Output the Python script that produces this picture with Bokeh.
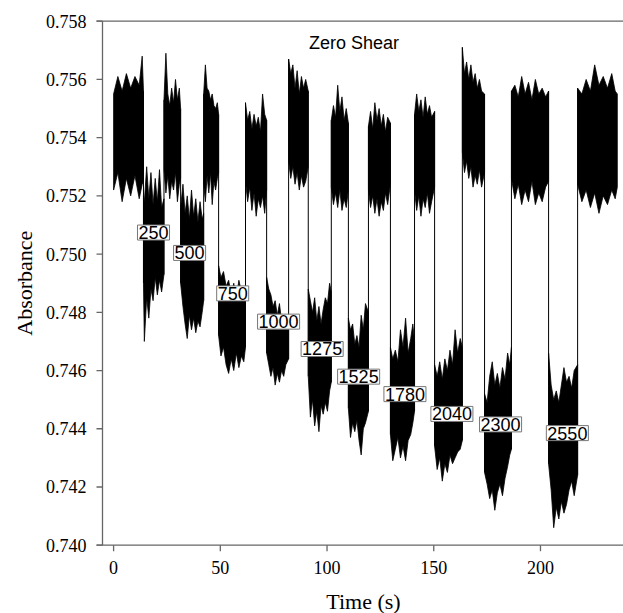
import math
from bokeh.plotting import figure
from bokeh.models import Range1d, Label
from bokeh.embed import file_html
from bokeh.resources import INLINE

# ---- data (time in s, absorbance envelopes per plateau) ----
seg_t = [
    [0, 2, 4, 6, 8, 10, 12, 13.4, 14],
    [14, 14.4, 15.5, 16.5, 17.5, 18.5, 19.5, 20.5, 21.5, 22.5, 23.6],
    [23.6, 24.5, 25.4, 26.3, 27.2, 28.1, 29, 29.9, 30.8, 31.4],
    [31.4, 32.5, 33.5, 34.5, 35.5, 36.5, 37.5, 38.5, 39.5, 40.5, 41.5, 42.2],
    [42.2, 43, 43.8, 44.6, 45.4, 46.2, 47, 47.8, 48.6, 49.2],
    [49.2, 50.3, 51.5, 52.7, 53.9, 55.1, 56.3, 57.5, 58.7, 59.9, 61, 61.8],
    [61.8, 62.8, 63.8, 64.8, 65.8, 66.8, 67.8, 68.8, 69.8, 70.8, 71.7],
    [71.7, 72.7, 73.7, 74.7, 75.7, 76.7, 77.7, 78.7, 79.7, 80.7, 82],
    [82, 83, 84, 85, 86, 87, 88, 89, 90, 91.2],
    [91.2, 92.2, 93.2, 94.2, 95.2, 96.2, 97.2, 98.2, 99.2, 100.2, 101.2, 102],
    [102, 103, 104, 105, 106, 107, 108, 109, 110],
    [110, 111, 112, 113, 114, 115, 116, 117, 118, 119.4],
    [119.4, 120.4, 121.4, 122.4, 123.4, 124.4, 125.4, 126.4, 127.4, 128.4, 129.7],
    [129.7, 130.8, 132, 133.2, 134.4, 135.6, 136.8, 138, 139.2, 140.2, 141],
    [141, 142, 143, 144, 145, 146, 147, 148, 149, 150.4],
    [150.4, 151.6, 152.8, 154, 155.2, 156.4, 157.6, 158.8, 160, 161.2, 162.4, 163.4],
    [163.4, 164.4, 165.4, 166.4, 167.4, 168.4, 169.4, 170.4, 171.4, 172.4, 173.8],
    [173.8, 175, 176.2, 177.4, 178.6, 179.8, 181, 182.2, 183.4, 184.6, 185.6, 186.4],
    [186.4, 188, 189.6, 191.2, 192.8, 194.4, 196, 197.6, 199.2, 200.8, 202.4, 203.8],
    [203.8, 205, 206.2, 207.4, 208.6, 209.8, 211, 212.2, 213.4, 214.6, 215.8, 217.4],
    [217.4, 219.4, 221.4, 223.4, 225.4, 227.4, 229.4, 231.4, 233.4, 235, 236],
]
seg_hi = [
    [0.7555, 0.7561, 0.7556, 0.7562, 0.7557, 0.7561, 0.7558, 0.7568, 0.7556],
    [0.7520, 0.7518, 0.7530, 0.7519, 0.7528, 0.7517, 0.7526, 0.7518, 0.7529, 0.7516, 0.7519],
    [0.7553, 0.7569, 0.7555, 0.7551, 0.7557, 0.7552, 0.7560, 0.7553, 0.7557, 0.7550],
    [0.7516, 0.7524, 0.7514, 0.7520, 0.7512, 0.7522, 0.7513, 0.7519, 0.7511, 0.7518, 0.7512, 0.7514],
    [0.7555, 0.7565, 0.7557, 0.7556, 0.7553, 0.7555, 0.7551, 0.7550, 0.7552, 0.7548],
    [0.7496, 0.7492, 0.7494, 0.7489, 0.7491, 0.7486, 0.7490, 0.7485, 0.7491, 0.7487, 0.7489, 0.7484],
    [0.7552, 0.7546, 0.7549, 0.7543, 0.7548, 0.7544, 0.7547, 0.7542, 0.7555, 0.7548, 0.7546],
    [0.7492, 0.7488, 0.7486, 0.7482, 0.7484, 0.7479, 0.7483, 0.7477, 0.7479, 0.7474, 0.7476],
    [0.7567, 0.7562, 0.7565, 0.7557, 0.7563, 0.7555, 0.7561, 0.7557, 0.7560, 0.7556],
    [0.7488, 0.7484, 0.7480, 0.7485, 0.7477, 0.7482, 0.7476, 0.7481, 0.7485, 0.7483, 0.7490, 0.7487],
    [0.7546, 0.7551, 0.7547, 0.7558, 0.7549, 0.7554, 0.7546, 0.7550, 0.7545],
    [0.7478, 0.7474, 0.7476, 0.7469, 0.7472, 0.7468, 0.7479, 0.7474, 0.7483, 0.7480],
    [0.7544, 0.7549, 0.7543, 0.7552, 0.7546, 0.7550, 0.7544, 0.7548, 0.7542, 0.7547, 0.7545],
    [0.7468, 0.7464, 0.7467, 0.7463, 0.7474, 0.7468, 0.7478, 0.7466, 0.7471, 0.7476, 0.7470],
    [0.7548, 0.7555, 0.7549, 0.7553, 0.7547, 0.7554, 0.7548, 0.7551, 0.7547, 0.7549],
    [0.7462, 0.7458, 0.7463, 0.7457, 0.7464, 0.7460, 0.7467, 0.7462, 0.7474, 0.7466, 0.7471, 0.7468],
    [0.7571, 0.7562, 0.7566, 0.7560, 0.7565, 0.7559, 0.7562, 0.7557, 0.7560, 0.7556, 0.7555],
    [0.7452, 0.7449, 0.7458, 0.7463, 0.7455, 0.7459, 0.7454, 0.7461, 0.7457, 0.7466, 0.7462, 0.7468],
    [0.7556, 0.7558, 0.7554, 0.7561, 0.7555, 0.7559, 0.7553, 0.7560, 0.7555, 0.7557, 0.7554, 0.7556],
    [0.7466, 0.7455, 0.7450, 0.7453, 0.7449, 0.7455, 0.7461, 0.7456, 0.7458, 0.7454, 0.7460, 0.7462],
    [0.7557, 0.7555, 0.7560, 0.7556, 0.7565, 0.7558, 0.7561, 0.7557, 0.7562, 0.7556, 0.7555],
]
seg_lo = [
    [0.7522, 0.7528, 0.7518, 0.7526, 0.7520, 0.7527, 0.7519, 0.7524, 0.7525],
    [0.7490, 0.7470, 0.7485, 0.7478, 0.7488, 0.7484, 0.7492, 0.7486, 0.7491, 0.7487, 0.7493],
    [0.7529, 0.7521, 0.7527, 0.7519, 0.7525, 0.7522, 0.7528, 0.7518, 0.7524, 0.7526],
    [0.7490, 0.7482, 0.7476, 0.7471, 0.7479, 0.7474, 0.7478, 0.7473, 0.7477, 0.7475, 0.7480, 0.7484],
    [0.7524, 0.7518, 0.7527, 0.7521, 0.7528, 0.7517, 0.7525, 0.7522, 0.7526, 0.7528],
    [0.7472, 0.7465, 0.7468, 0.7462, 0.7459, 0.7464, 0.7460, 0.7466, 0.7461, 0.7465, 0.7463, 0.7468],
    [0.7525, 0.7518, 0.7523, 0.7515, 0.7521, 0.7513, 0.7519, 0.7516, 0.7520, 0.7514, 0.7522],
    [0.7466, 0.7462, 0.7458, 0.7461, 0.7455, 0.7459, 0.7456, 0.7460, 0.7458, 0.7462, 0.7464],
    [0.7532, 0.7526, 0.7530, 0.7524, 0.7528, 0.7522, 0.7527, 0.7523, 0.7525, 0.7530],
    [0.7458, 0.7444, 0.7450, 0.7441, 0.7446, 0.7439, 0.7448, 0.7445, 0.7449, 0.7446, 0.7453, 0.7456],
    [0.7523, 0.7517, 0.7521, 0.7516, 0.7522, 0.7515, 0.7519, 0.7516, 0.7522],
    [0.7447, 0.7437, 0.7442, 0.7439, 0.7443, 0.7436, 0.7431, 0.7440, 0.7442, 0.7446],
    [0.7522, 0.7516, 0.7520, 0.7514, 0.7519, 0.7513, 0.7518, 0.7515, 0.7521, 0.7517, 0.7524],
    [0.7438, 0.7429, 0.7433, 0.7437, 0.7430, 0.7434, 0.7429, 0.7436, 0.7438, 0.7442, 0.7446],
    [0.7522, 0.7515, 0.7520, 0.7513, 0.7519, 0.7516, 0.7521, 0.7514, 0.7518, 0.7523],
    [0.7434, 0.7426, 0.7430, 0.7422, 0.7428, 0.7425, 0.7431, 0.7428, 0.7430, 0.7432, 0.7433, 0.7436],
    [0.7535, 0.7528, 0.7532, 0.7526, 0.7530, 0.7523, 0.7527, 0.7524, 0.7529, 0.7523, 0.7528],
    [0.7425, 0.7421, 0.7416, 0.7419, 0.7412, 0.7418, 0.7421, 0.7417, 0.7423, 0.7427, 0.7431, 0.7433],
    [0.7526, 0.7519, 0.7524, 0.7517, 0.7522, 0.7518, 0.7525, 0.7517, 0.7521, 0.7518, 0.7523, 0.7525],
    [0.7428, 0.7419, 0.7406, 0.7413, 0.7409, 0.7415, 0.7411, 0.7414, 0.7419, 0.7422, 0.7417, 0.7424],
    [0.7524, 0.7518, 0.7522, 0.7516, 0.7521, 0.7514, 0.7520, 0.7517, 0.7522, 0.7519, 0.7523],
]

label_text = ["250", "500", "750", "1000", "1275", "1525", "1780", "2040", "2300", "2550"]
label_t = [18.7, 35.6, 55.8, 77.3, 97.7, 114.8, 136.5, 158.5, 181.3, 212.6]
label_v = [0.75074, 0.75004, 0.74865, 0.74768, 0.74674, 0.74579, 0.74519, 0.74451, 0.74415, 0.74385]

x_ticks = [0, 50, 100, 150, 200]
x_tick_labels = ["0", "50", "100", "150", "200"]
y_ticks = [0.740, 0.742, 0.744, 0.746, 0.748, 0.750, 0.752, 0.754, 0.756, 0.758]
y_tick_labels = ["0.740", "0.742", "0.744", "0.746", "0.748", "0.750", "0.752", "0.754", "0.756", "0.758"]

# axis extents (data units)
AX_X0, AX_X1 = -5.2, 238.9      # time axis span
AX_Y0, AX_Y1 = 0.740, 0.758     # absorbance axis span

# ---- layout: the plotting area spans the whole canvas; axes are drawn inside ----
W, H = 623, 613
LEFT, BOTTOM, TOP = 102, 68.3, 20.7          # pixel margins around the axis box
sx = (W - LEFT) / (AX_X1 - AX_X0)            # px per second
sy = (H - BOTTOM - TOP) / (AX_Y1 - AX_Y0)    # px per absorbance unit
x_lo, x_hi = AX_X0 - LEFT / sx, AX_X1
y_lo, y_hi = AX_Y0 - BOTTOM / sy, AX_Y1 + TOP / sy

p = figure(width=W, height=H, output_backend="svg", toolbar_location=None,
           x_range=Range1d(x_lo, x_hi), y_range=Range1d(y_lo, y_hi),
           x_axis_location=None, y_axis_location=None)
p.min_border = 0
p.outline_line_color = None
p.grid.visible = False
p.background_fill_color = "white"
p.border_fill_color = "white"

# signal envelopes
xs = [t + t[::-1] for t in seg_t]
ys = [h + l[::-1] for h, l in zip(seg_hi, seg_lo)]
p.patches(xs, ys, fill_color="black", line_color="black", line_width=0.8)

# transitions between plateaus
tx, ty0, ty1 = [], [], []
for i in range(len(seg_t) - 1):
    tx.append(seg_t[i][-1])
    ty0.append(min(seg_lo[i][-1], seg_lo[i + 1][0]))
    ty1.append(max(seg_hi[i][-1], seg_hi[i + 1][0]))
p.segment(x0=tx, y0=ty0, x1=tx, y1=ty1, line_color="black", line_width=1)

# axis lines and ticks
AX_COL = "#666666"
tick_dx, tick_dy = 6 / sx, 6 / sy
p.segment(x0=[AX_X0 - tick_dx, AX_X0 - tick_dx, AX_X0],
          y0=[AX_Y0, AX_Y1, AX_Y0],
          x1=[AX_X1, AX_X1, AX_X0],
          y1=[AX_Y0, AX_Y1, AX_Y1], line_color=AX_COL, line_width=1.3)
p.segment(x0=x_ticks, y0=[AX_Y0] * len(x_ticks), x1=x_ticks,
          y1=[AX_Y0 - tick_dy] * len(x_ticks), line_color=AX_COL, line_width=1.3)
p.segment(x0=[AX_X0] * len(y_ticks), y0=y_ticks, x1=[AX_X0 - tick_dx] * len(y_ticks),
          y1=y_ticks, line_color=AX_COL, line_width=1.3)

SERIF = "Liberation Serif"
for t, s in zip(x_ticks, x_tick_labels):
    p.add_layout(Label(x=t, y=AX_Y0 - 22.5 / sy, text=s, text_align="center",
                       text_baseline="middle", text_font=SERIF, text_font_size="18px",
                       text_color="black"))
for v, s in zip(y_ticks, y_tick_labels):
    p.add_layout(Label(x=AX_X0 - 16 / sx, y=v, text=s, text_align="right",
                       text_baseline="middle", text_font=SERIF, text_font_size="18px",
                       text_color="black"))

p.add_layout(Label(x=AX_X0 + 261 / sx, y=AX_Y0 - 56 / sy, text="Time (s)",
                   text_align="center", text_baseline="middle", text_font=SERIF,
                   text_font_size="22px", text_color="black"))
p.add_layout(Label(x=AX_X0 - 78 / sx, y=(AX_Y0 + AX_Y1) / 2, text="Absorbance",
                   angle=math.pi / 2, text_align="center", text_baseline="middle",
                   text_font=SERIF, text_font_size="22px", text_color="black"))

# step labels
for t, v, s in zip(label_t, label_v, label_text):
    p.add_layout(Label(x=t, y=v, text=s, text_align="center", text_baseline="middle",
                       text_font="Liberation Sans", text_font_size="18px", text_color="black",
                       background_fill_color="white", border_line_color="#777777",
                       border_line_width=1, padding=1))

p.add_layout(Label(x=112.6, y=0.75724, text="Zero Shear", text_align="center",
                   text_baseline="middle", text_font="Liberation Sans",
                   text_font_size="18px", text_color="black"))

open("out.html", "w").write(file_html(p, INLINE))
